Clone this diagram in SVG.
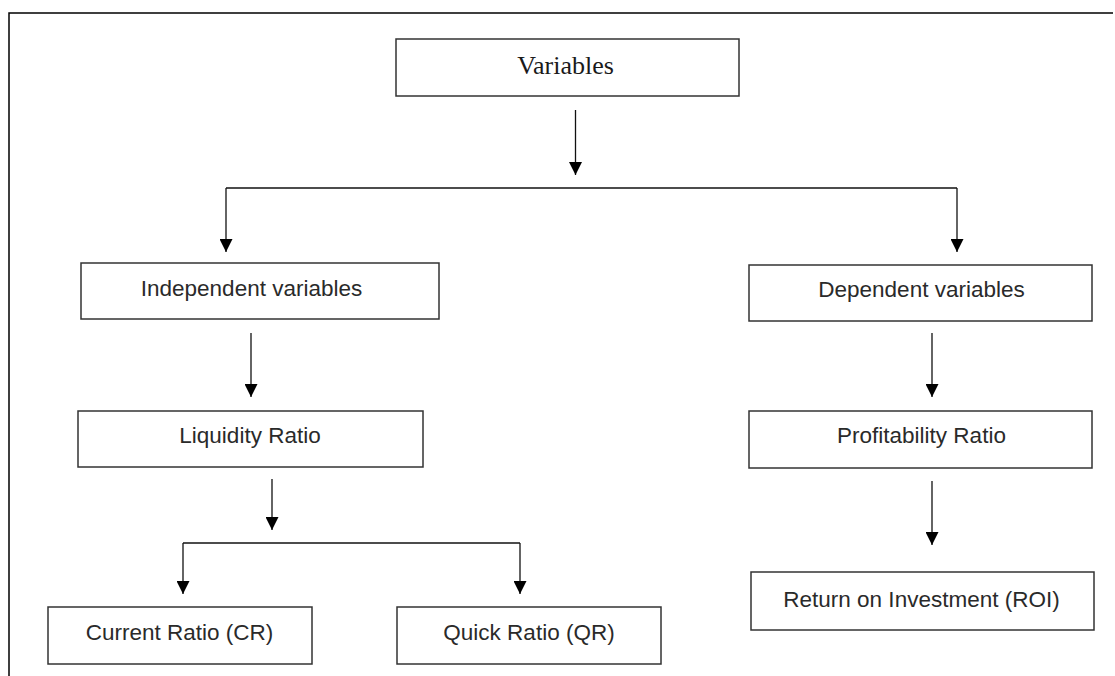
<svg xmlns="http://www.w3.org/2000/svg" width="1115" height="676" viewBox="0 0 1115 676">
<style>
.box{fill:#fff;stroke:#333;stroke-width:1.5}
.lbl{font-family:"Liberation Sans",Arial,sans-serif;font-size:22.5px;fill:#2a2a2a;text-anchor:middle}
.ser{font-family:"Liberation Serif","Times New Roman",serif;font-size:26px;fill:#1a1a1a;text-anchor:middle}
.ln{fill:none;stroke:#111;stroke-width:1.3}
.con{fill:none;stroke:#111;stroke-width:1.3;marker-end:url(#ah)}
</style>
<defs>
<marker id="ah" markerUnits="userSpaceOnUse" markerWidth="14" markerHeight="13" refX="13" refY="6.5" orient="auto">
<path d="M0,0 L13,6.5 L0,13 z" fill="#000"/>
</marker>
</defs>
<rect width="1115" height="676" fill="#fff"/>
<g id="frame">
<path d="M9,676 V13 H1113" fill="none" stroke="#000" stroke-width="1.5"/>
</g>
<g id="connectors">
<line class="con" x1="575.5" y1="110" x2="575.5" y2="175"/>
<path class="ln" d="M226,188 H957"/>
<line class="con" x1="226" y1="188" x2="226" y2="252"/>
<line class="con" x1="957" y1="188" x2="957" y2="252"/>
<line class="con" x1="251" y1="333" x2="251" y2="397"/>
<line class="con" x1="932" y1="333" x2="932" y2="397"/>
<line class="con" x1="272" y1="479" x2="272" y2="530"/>
<path class="ln" d="M183,543 H520"/>
<line class="con" x1="183" y1="543" x2="183" y2="594"/>
<line class="con" x1="520" y1="543" x2="520" y2="594"/>
<line class="con" x1="932" y1="481" x2="932" y2="545"/>
</g>
<g id="variables">
<rect class="box" x="396" y="39" width="343" height="57"/>
<text class="ser" x="565.5" y="74">Variables</text>
</g>
<g id="independent">
<rect class="box" x="81" y="263" width="358" height="56"/>
<text class="lbl" x="251.5" y="296">Independent variables</text>
</g>
<g id="dependent">
<rect class="box" x="749" y="265" width="343" height="56"/>
<text class="lbl" x="921.5" y="297">Dependent variables</text>
</g>
<g id="liquidity">
<rect class="box" x="78" y="411" width="345" height="56"/>
<text class="lbl" x="250" y="443">Liquidity Ratio</text>
</g>
<g id="profitability">
<rect class="box" x="749" y="411" width="343" height="57"/>
<text class="lbl" x="921.5" y="443">Profitability Ratio</text>
</g>
<g id="current">
<rect class="box" x="48" y="607" width="264" height="57"/>
<text class="lbl" x="179.5" y="640">Current Ratio (CR)</text>
</g>
<g id="quick">
<rect class="box" x="397" y="607" width="264" height="57"/>
<text class="lbl" x="529" y="640">Quick Ratio (QR)</text>
</g>
<g id="roi">
<rect class="box" x="751" y="572" width="343" height="58"/>
<text class="lbl" x="921.5" y="607">Return on Investment (ROI)</text>
</g>
</svg>
